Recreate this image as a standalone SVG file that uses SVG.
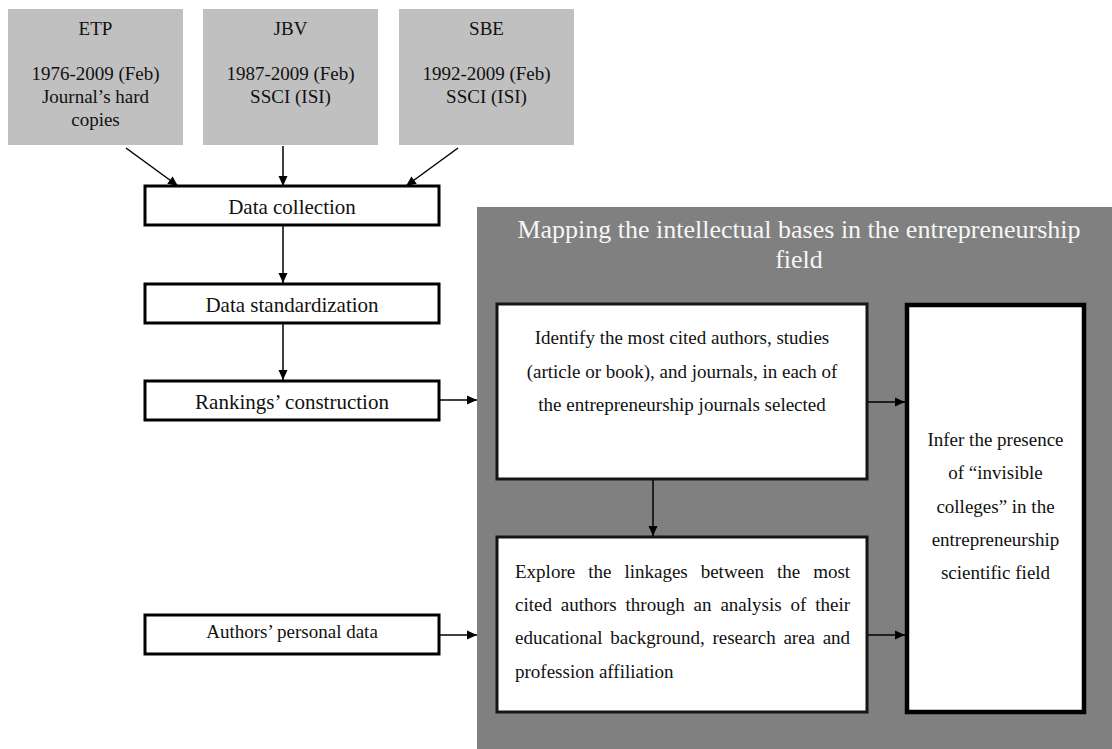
<svg xmlns="http://www.w3.org/2000/svg" width="1112" height="749" viewBox="0 0 1112 749">
  <style>
    text { font-family: 'Liberation Serif', 'Times New Roman', 'DejaVu Serif', serif; fill: #111; }
    .src { fill: #c0c0c0; }
    .src-t { font-size: 19px; text-anchor: middle; }
    .step { fill: #fff; stroke: #000; stroke-width: 3; }
    .step-t { font-size: 21px; text-anchor: middle; }
    .step-s { font-size: 19px; text-anchor: middle; }
    .panel { fill: #808080; }
    .title { font-size: 26px; text-anchor: middle; fill: #f6f6f6; }
    .task { fill: #fff; stroke: #151515; stroke-width: 3; }
    .goal { fill: #fff; stroke: #000; stroke-width: 4.5; }
    .body { font-size: 19px; }
    .mid { text-anchor: middle; }
    .link { fill: none; stroke: #000; stroke-width: 1.5; marker-end: url(#tip); }
  </style>
  <defs>
    <marker id="tip" markerUnits="userSpaceOnUse" markerWidth="12" markerHeight="12" viewBox="0 0 12 12" refX="11" refY="6" orient="auto">
      <path d="M1,1.5 L11,6 L1,10.5 Z" fill="#000"/>
    </marker>
  </defs>

  <rect width="1112" height="749" fill="#fff"/>

  <!-- source journals -->
  <g id="src-etp">
    <rect class="src" x="8" y="9" width="175" height="136"/>
    <text class="src-t" x="95.5" y="35">ETP</text>
    <text class="src-t" x="95.5" y="80">1976-2009 (Feb)</text>
    <text class="src-t" x="95.5" y="103">Journal’s hard</text>
    <text class="src-t" x="95.5" y="126">copies</text>
  </g>
  <g id="src-jbv">
    <rect class="src" x="203" y="9" width="175" height="136"/>
    <text class="src-t" x="290.5" y="35">JBV</text>
    <text class="src-t" x="290.5" y="80">1987-2009 (Feb)</text>
    <text class="src-t" x="290.5" y="103">SSCI (ISI)</text>
  </g>
  <g id="src-sbe">
    <rect class="src" x="399" y="9" width="175" height="136"/>
    <text class="src-t" x="486.5" y="35">SBE</text>
    <text class="src-t" x="486.5" y="80">1992-2009 (Feb)</text>
    <text class="src-t" x="486.5" y="103">SSCI (ISI)</text>
  </g>

  <!-- preparation steps -->
  <g id="data-collection">
    <rect class="step" x="145" y="186" width="294" height="39"/>
    <text class="step-t" x="292" y="214">Data collection</text>
  </g>
  <g id="data-standardization">
    <rect class="step" x="145" y="284" width="294" height="39"/>
    <text class="step-t" x="292" y="312">Data standardization</text>
  </g>
  <g id="rankings">
    <rect class="step" x="145" y="381" width="294" height="39"/>
    <text class="step-t" x="292" y="409">Rankings’ construction</text>
  </g>
  <g id="personal-data">
    <rect class="step" x="145" y="615" width="294" height="39"/>
    <text class="step-s" x="292" y="638">Authors’ personal data</text>
  </g>

  <!-- mapping panel -->
  <g id="mapping">
    <rect class="panel" x="477" y="207" width="635" height="542"/>
    <text class="title" x="799" y="238">Mapping the intellectual bases in the entrepreneurship</text>
    <text class="title" x="799" y="268">field</text>
  </g>
  <g id="identify">
    <rect class="task" x="497" y="304" width="370" height="175"/>
    <text class="body mid" x="682" y="344">Identify the most cited authors, studies</text>
    <text class="body mid" x="682" y="378">(article or book), and journals, in each of</text>
    <text class="body mid" x="682" y="411">the entrepreneurship journals selected</text>
  </g>
  <g id="explore">
    <rect class="task" x="497" y="537" width="370" height="175"/>
    <text class="body" y="578"><tspan x="515">Explore</tspan><tspan x="588.2">the</tspan><tspan x="624.4">linkages</tspan><tspan x="700.7">between</tspan><tspan x="777">the</tspan><tspan x="813.2">most</tspan></text>
    <text class="body" y="611"><tspan x="515">cited</tspan><tspan x="560.8">authors</tspan><tspan x="625.6">through</tspan><tspan x="693.6">an</tspan><tspan x="720.4">analysis</tspan><tspan x="790.5">of</tspan><tspan x="815.2">their</tspan></text>
    <text class="body" y="644"><tspan x="515">educational</tspan><tspan x="610.3">background,</tspan><tspan x="712.4">research</tspan><tspan x="783.4">area</tspan><tspan x="822.7">and</tspan></text>
    <text class="body" x="515" y="678">profession affiliation</text>
  </g>
  <g id="infer">
    <rect class="goal" x="907" y="305" width="177" height="407"/>
    <text class="body mid" x="995.5" y="446">Infer the presence</text>
    <text class="body mid" x="995.5" y="479">of “invisible</text>
    <text class="body mid" x="995.5" y="513">colleges” in the</text>
    <text class="body mid" x="995.5" y="546">entrepreneurship</text>
    <text class="body mid" x="995.5" y="579">scientific field</text>
  </g>

  <!-- connectors -->
  <g id="connectors">
    <line class="link" x1="126" y1="148" x2="178" y2="186"/>
    <line class="link" x1="283" y1="146" x2="283" y2="186"/>
    <line class="link" x1="458" y1="148" x2="406" y2="186"/>
    <line class="link" x1="283" y1="225" x2="283" y2="283"/>
    <line class="link" x1="283" y1="323" x2="283" y2="380"/>
    <line class="link" x1="440" y1="400" x2="477" y2="400"/>
    <line class="link" x1="440" y1="635" x2="477" y2="635"/>
    <line class="link" x1="653" y1="480" x2="653" y2="536"/>
    <line class="link" x1="868" y1="402" x2="905" y2="402"/>
    <line class="link" x1="868" y1="635" x2="905" y2="635"/>
  </g>
</svg>
